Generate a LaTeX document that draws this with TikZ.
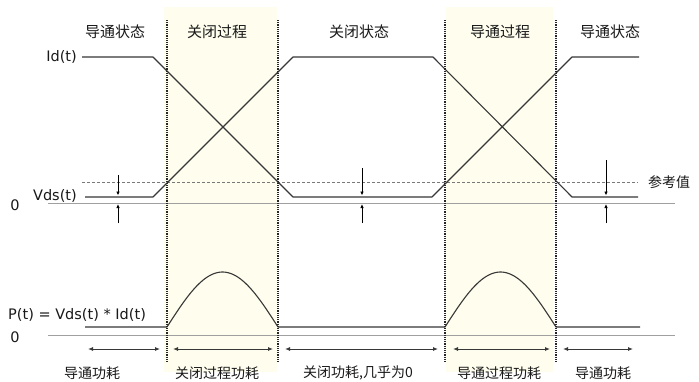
\documentclass[tikz,border=0pt]{standalone}
\usepackage{fontspec}
\setmainfont{DejaVu Sans}
\newfontfamily\cjk{Noto Sans CJK SC}
\usetikzlibrary{arrows.meta}
\definecolor{band}{RGB}{255,254,238}
\definecolor{wave}{RGB}{55,55,55}
\definecolor{zeroc}{RGB}{160,160,160}
\definecolor{refc}{RGB}{120,120,120}
\definecolor{txt}{RGB}{25,25,25}
\tikzset{
  wavel/.style={draw=wave,line width=1.1pt,line join=round},
  zeroline/.style={draw=zeroc,line width=1pt},
  refline/.style={draw=refc,line width=0.9pt,dash pattern=on 3pt off 2pt},
  divline/.style={draw=black!85,line width=1.4pt,dash pattern=on 1.2pt off 1pt},
  marker/.style={draw=black,line width=0.8pt,-{Latex[length=4pt,width=3.5pt]}},
  spanarrow/.style={draw=wave,line width=0.9pt,{Latex[length=5pt,width=4pt]}-{Latex[length=5pt,width=4pt]}},
  toplabel/.style={font=\cjk\fontsize{15}{18}\selectfont,text=txt,inner sep=0pt},
  botlabel/.style={font=\cjk\fontsize{14}{17}\selectfont,text=txt,inner sep=0pt},
  siglabel/.style={font=\fontsize{14.5}{17}\selectfont,text=txt,inner sep=0pt},
}
\begin{document}
\begin{tikzpicture}[x=1pt,y=-1pt]
\useasboundingbox[fill=white] (0,0) rectangle (699,381);
% shaded transition bands
\fill[band] (164,7) rectangle (277,372);
\fill[band] (446,7) rectangle (553,372);
% zero lines
\draw[zeroline] (48,203) -- (675,203);
\draw[zeroline] (48,335) -- (675,335);
% reference level
\draw[refline] (82,182) -- (638,182);
% Id(t)
\draw[wavel] (82,57) -- (153,57) -- (293,197) -- (432,197) -- (572,57) -- (639,57);
% Vds(t)
\draw[wavel] (85,197) -- (153,197) -- (293,57) -- (433,57) -- (572,197) -- (638,197);
% P(t)
\draw[wavel] (85,327) -- (167,327)
  -- plot[domain=0:180,samples=60,smooth] ({167+\x*0.61667},{327-55*sin(\x)})
  -- (445,327)
  -- plot[domain=0:180,samples=60,smooth] ({445+\x*0.61667},{327-55*sin(\x)})
  -- (640,327);
% dividing dotted lines
\foreach \xx in {167,278,445,556} \draw[divline] (\xx,20) -- (\xx,363);
% level markers
\foreach \xx/\yy in {118/175,362/168,606/160} {
  \draw[marker] (\xx,\yy) -- (\xx,195.5);
  \draw[marker] (\xx,223) -- (\xx,204);
}
% span arrows
\foreach \a/\b in {88/160,173/273,285/438,453/550,563/633}
  \draw[spanarrow] (\a,349) -- (\b,349);
% top labels
\node[toplabel] (s1) at (115,32) {导通状态};
\node[toplabel] (s2) at (217,32) {关闭过程};
\node[toplabel] (s3) at (359,32) {关闭状态};
\node[toplabel] (s4) at (500,32) {导通过程};
\node[toplabel] (s5) at (610,32) {导通状态};
% bottom labels
\node[botlabel] (b1) at (92,373) {导通功耗};
\node[botlabel] (b2) at (217,373) {关闭过程功耗};
\node[botlabel] (b3) at (358,373) {关闭功耗,几乎为0};
\node[botlabel] (b4) at (499,373) {导通过程功耗};
\node[botlabel] (b5) at (603,373) {导通功耗};
% signal labels
\node[siglabel,anchor=east] (id) at (77,57) {Id(t)};
\node[siglabel,anchor=east] (vds) at (77,196) {Vds(t)};
\node[siglabel,anchor=west] (pt) at (8,315) {P(t) = Vds(t) * Id(t)};
\node[siglabel] (z1) at (15,205) {0};
\node[siglabel] (z2) at (15,337) {0};
\node[botlabel] (ref) at (669,182) {参考值};
\end{tikzpicture}
\end{document}
